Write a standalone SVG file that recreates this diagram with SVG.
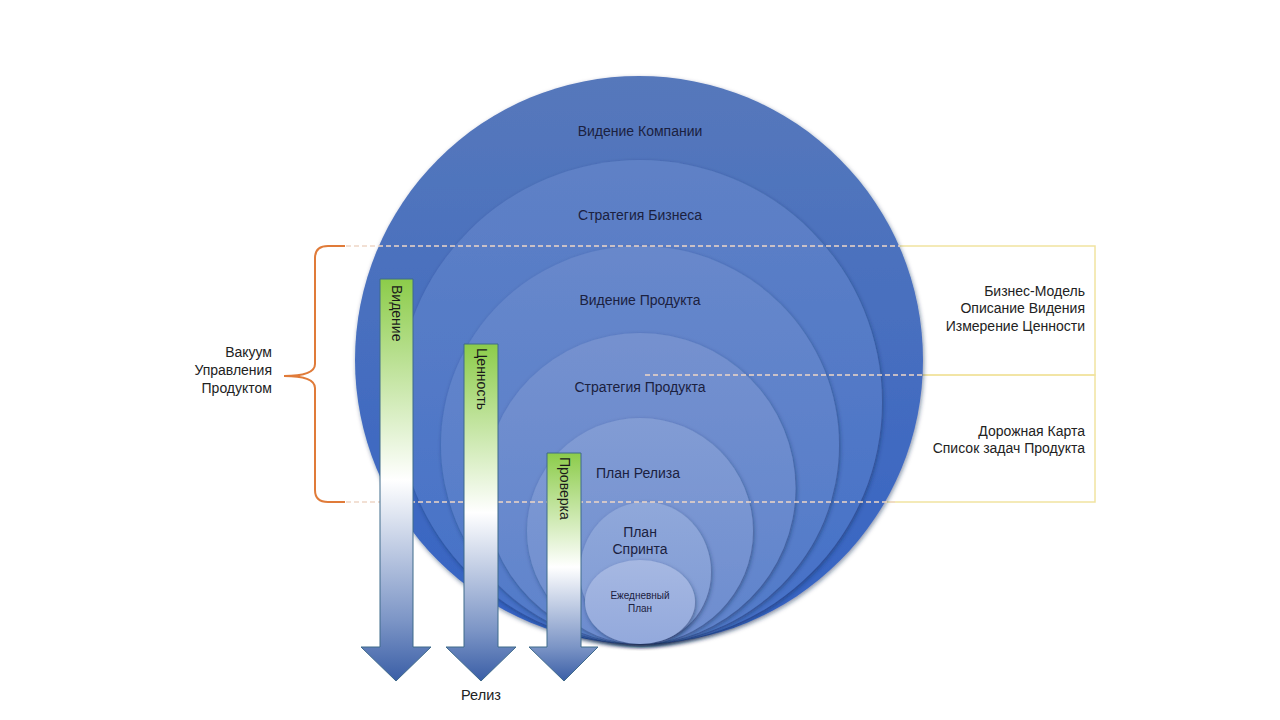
<svg xmlns="http://www.w3.org/2000/svg" width="1280" height="720" viewBox="0 0 1280 720">
<defs>
  <style>
    .lbl { font-family: "Liberation Sans", Arial, sans-serif; font-size: 14px; fill: #1b2140; text-anchor: middle; }
    .side { font-family: "Liberation Sans", Arial, sans-serif; font-size: 14px; fill: #222222; text-anchor: end; }
    .vert { font-family: "Liberation Sans", Arial, sans-serif; font-size: 14px; fill: #1a1a1a; }
    .dash { stroke: #eed6c6; stroke-width: 1.3; stroke-dasharray: 5 3; fill: none; }
    .arrow { stroke: #3f6a8a; stroke-width: 1; }
    .c { filter: url(#sh); }
  </style>
  <filter id="sh" x="-10%" y="-10%" width="120%" height="125%">
    <feDropShadow dx="1" dy="2" stdDeviation="2" flood-color="#152652" flood-opacity="0.5"/>
  </filter>
  <linearGradient id="g1" x1="0" y1="0" x2="0" y2="1"><stop offset="0" stop-color="#5678bb"/><stop offset="1" stop-color="#3563c4"/></linearGradient>
  <linearGradient id="g2" x1="0" y1="0" x2="0" y2="1"><stop offset="0" stop-color="#5f81c6"/><stop offset="1" stop-color="#4470c8"/></linearGradient>
  <linearGradient id="g3" x1="0" y1="0" x2="0" y2="1"><stop offset="0" stop-color="#6888cb"/><stop offset="1" stop-color="#5079c9"/></linearGradient>
  <linearGradient id="g4" x1="0" y1="0" x2="0" y2="1"><stop offset="0" stop-color="#7591cf"/><stop offset="1" stop-color="#5e83cc"/></linearGradient>
  <linearGradient id="g5" x1="0" y1="0" x2="0" y2="1"><stop offset="0" stop-color="#829cd4"/><stop offset="1" stop-color="#6c8ccf"/></linearGradient>
  <linearGradient id="g6" x1="0" y1="0" x2="0" y2="1"><stop offset="0" stop-color="#90a8da"/><stop offset="1" stop-color="#7d99d4"/></linearGradient>
  <linearGradient id="g7" x1="0" y1="0" x2="0" y2="1"><stop offset="0" stop-color="#a6b8e2"/><stop offset="1" stop-color="#93a9dc"/></linearGradient>
  <linearGradient id="ga" x1="0" y1="0" x2="0" y2="1">
    <stop offset="0" stop-color="#8ccc4a"/>
    <stop offset="0.5" stop-color="#ffffff"/>
    <stop offset="0.85" stop-color="#7c95c6"/>
    <stop offset="1" stop-color="#3a5ea6"/>
  </linearGradient>
</defs>

<rect width="1280" height="720" fill="#ffffff"/>

<g id="right-boxes" fill="none" stroke="#f1e3a0" stroke-width="1.5">
  <rect x="700" y="246" width="395" height="129"/>
  <rect x="700" y="375" width="395" height="127"/>
</g>

<g id="circles">
  <g id="node-company-vision"><circle class="c" cx="639" cy="360" r="284" fill="url(#g1)"/></g>
  <g id="node-business-strategy"><circle class="c" cx="640" cy="402" r="242" fill="url(#g2)"/></g>
  <g id="node-product-vision"><circle class="c" cx="640" cy="445" r="199" fill="url(#g3)"/></g>
  <g id="node-product-strategy"><circle class="c" cx="640" cy="488.5" r="155.5" fill="url(#g4)"/></g>
  <g id="node-release-plan"><circle class="c" cx="640" cy="531" r="113" fill="url(#g5)"/></g>
  <g id="node-sprint-plan"><ellipse class="c" cx="645.5" cy="572" rx="65.5" ry="70" fill="url(#g6)"/></g>
  <g id="node-daily-plan"><ellipse class="c" cx="640" cy="602" rx="55" ry="42" fill="url(#g7)"/></g>
</g>

<g id="circle-labels">
  <text class="lbl" x="640" y="136">Видение Компании</text>
  <text class="lbl" x="640" y="220">Стратегия Бизнеса</text>
  <text class="lbl" x="640" y="305">Видение Продукта</text>
  <text class="lbl" x="640" y="392">Стратегия Продукта</text>
  <text class="lbl" x="638" y="478">План Релиза</text>
  <text class="lbl" x="640" y="537">План</text>
  <text class="lbl" x="640" y="554">Спринта</text>
  <text class="lbl" x="640" y="599" style="font-size:10px">Ежедневный</text>
  <text class="lbl" x="640" y="612" style="font-size:10px">План</text>
</g>

<g id="connectors">
  <line class="dash" x1="346" y1="246" x2="900" y2="246"/>
  <line class="dash" x1="645" y1="375" x2="922" y2="375"/>
  <line class="dash" x1="346" y1="502" x2="898" y2="502"/>
  <path id="bracket" d="M345,246 L328,246 Q315,246 315,258 L315,364 Q315,376 284,376 Q315,376 315,388 L315,490 Q315,502 328,502 L345,502" fill="none" stroke="#e07b39" stroke-width="2"/>
</g>

<g id="arrow-vision">
  <path class="arrow" d="M380,279 L413,279 L413,647 L431,647 L396,681 L361,647 L380,647 Z" fill="url(#ga)"/>
  <text class="vert" transform="translate(391.5,285) rotate(90)">Видение</text>
</g>
<g id="arrow-value">
  <path class="arrow" d="M464,344 L498,344 L498,647 L516,647 L481,681 L446,647 L464,647 Z" fill="url(#ga)"/>
  <text class="vert" transform="translate(476.5,348) rotate(90)">Ценность</text>
</g>
<g id="arrow-check">
  <path class="arrow" d="M547,453 L581,453 L581,647 L598,647 L564,681 L529,647 L547,647 Z" fill="url(#ga)"/>
  <text class="vert" transform="translate(559.5,457) rotate(90)">Проверка</text>
</g>

<g id="labels">
  <text class="lbl" x="481" y="700" style="font-size:14.5px;fill:#222222">Релиз</text>
  <text class="side" x="272" y="357">Вакуум</text>
  <text class="side" x="272" y="375">Управления</text>
  <text class="side" x="272" y="393">Продуктом</text>
  <text class="side" x="1085" y="296">Бизнес-Модель</text>
  <text class="side" x="1085" y="313">Описание Видения</text>
  <text class="side" x="1085" y="331">Измерение Ценности</text>
  <text class="side" x="1085" y="436">Дорожная Карта</text>
  <text class="side" x="1085" y="453">Список задач Продукта</text>
</g>
</svg>
